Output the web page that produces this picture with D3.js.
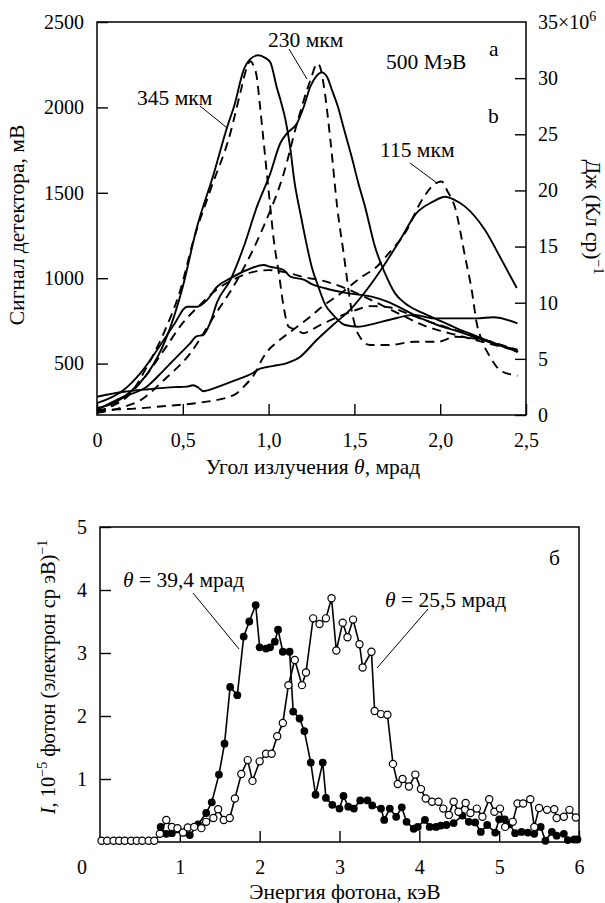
<!DOCTYPE html>
<html><head><meta charset="utf-8">
<script src="https://cdn.jsdelivr.net/npm/d3@7"></script>
<style>
body{margin:0;background:#fff}
</style>
</head><body>
<svg id="c" width="605" height="903"></svg>
<script>
// ---------- Panel (a/b): detector signal vs emission angle ----------
const angleTicks = [0, 0.5, 1.0, 1.5, 2.0, 2.5];
const signalTicks = [500, 1000, 1500, 2000, 2500];
const energyTicks = [0, 5, 10, 15, 20, 25, 30];

// solid curves (left axis, mV)
const s345 = [[0,240],[0.1,270],[0.2,340],[0.3,450],[0.4,640],[0.5,950],[0.58,1290],[0.68,1610],[0.76,1890],[0.8,2010],[0.855,2220],[0.89,2280],[0.94,2305],[0.98,2290],[1.01,2265],[1.047,2120],[1.07,2040],[1.1,1920],[1.125,1770],[1.15,1570],[1.185,1380],[1.212,1243],[1.253,1060],[1.29,950],[1.33,845],[1.368,794],[1.445,726],[1.52,716],[1.6,730],[1.7,755],[1.85,785],[1.96,765],[2.1,765],[2.21,765],[2.31,771],[2.45,736]];
const s230 = [[0,228],[0.155,306],[0.29,365],[0.39,462],[0.485,560],[0.54,615],[0.58,660],[0.62,668],[0.66,740],[0.7,860],[0.777,989],[0.855,1184],[0.932,1419],[1.01,1614],[1.068,1790],[1.107,1848],[1.166,1907],[1.205,2004],[1.243,2121],[1.28,2185],[1.31,2205],[1.34,2180],[1.37,2100],[1.404,2004],[1.44,1870],[1.484,1711],[1.522,1560],[1.562,1419],[1.62,1184],[1.678,1029],[1.737,911],[1.795,853],[1.9,795],[2.0,750],[2.1,705],[2.2,665],[2.3,625],[2.455,570]];
const s115 = [[0,306],[0.156,335],[0.3,350],[0.45,362],[0.524,365],[0.559,373],[0.59,360],[0.618,338],[0.65,345],[0.68,355],[0.8,400],[0.909,445],[0.95,470],[0.99,480],[1.05,490],[1.107,503],[1.183,539],[1.28,638],[1.375,726],[1.474,814],[1.571,931],[1.667,1067],[1.766,1224],[1.863,1382],[1.958,1448],[2.028,1477],[2.08,1460],[2.145,1419],[2.261,1282],[2.358,1107],[2.446,943]];
const sBroad = [[0,268],[0.155,345],[0.252,443],[0.389,638],[0.45,730],[0.524,833],[0.583,833],[0.641,872],[0.7,950],[0.777,999],[0.874,1048],[0.971,1077],[1.01,1067],[1.088,1048],[1.127,1009],[1.212,989],[1.243,970],[1.329,941],[1.465,911],[1.6,892],[1.7,860],[1.8,810],[1.9,760],[2.0,720],[2.1,690],[2.2,655],[2.3,620],[2.45,580]];

// dashed curves (right axis, J (C sr)^-1, x10^6)
const d345 = [[0,0.3],[0.1,0.9],[0.194,1.9],[0.291,4.3],[0.389,7.3],[0.485,11.1],[0.563,15.6],[0.66,20],[0.777,25.1],[0.84,29],[0.87,30.8],[0.893,31.5],[0.915,31],[0.93,30.2],[0.95,27.5],[0.97,24.5],[0.99,21.5],[1.01,18.5],[1.03,15.6],[1.06,12.6],[1.088,9.6],[1.117,7.86],[1.166,7.57],[1.205,7.28],[1.25,7.6],[1.3,8.0],[1.4,8.7],[1.5,9.3],[1.6,9.7],[1.7,9.6],[1.8,9.1],[1.9,8.5],[2.0,8.0],[2.1,7.5],[2.2,7.0],[2.3,6.5],[2.45,5.8]];
const d230 = [[0,0.2],[0.15,0.7],[0.252,1.3],[0.389,3.1],[0.544,5.5],[0.68,8.75],[0.816,12],[0.971,16.8],[1.088,21.5],[1.166,26],[1.243,29.8],[1.285,31.3],[1.3,31.0],[1.32,29.5],[1.36,24.5],[1.4,18.5],[1.44,14.1],[1.48,9.64],[1.52,7.27],[1.59,6.23],[1.7,6.23],[1.853,6.53],[1.99,6.53],[2.09,6.97],[2.2,6.8],[2.3,6.5],[2.45,5.6]];
const d115 = [[0,0.45],[0.2,0.55],[0.4,0.8],[0.6,1.1],[0.8,1.8],[0.86,2.6],[0.92,3.7],[0.96,4.9],[1.0,5.8],[1.05,6.5],[1.1,7.1],[1.17,7.9],[1.243,8.75],[1.3,9.5],[1.435,11.0],[1.533,12.2],[1.63,13.2],[1.7,14.4],[1.795,16.2],[1.892,19.1],[1.97,20.6],[2.009,20.8],[2.04,20.0],[2.086,18.5],[2.145,14.1],[2.184,11.1],[2.213,8.16],[2.242,6.68],[2.29,5.19],[2.348,4.0],[2.426,3.56],[2.45,3.5]];
const dBroad = [[0,0.3],[0.1,0.9],[0.2,2.0],[0.3,3.8],[0.4,6.0],[0.5,8.2],[0.6,9.8],[0.7,11.2],[0.8,12.1],[0.9,12.7],[1.0,12.9],[1.1,12.7],[1.2,12.3],[1.33,11.9],[1.445,11.3],[1.562,10.5],[1.678,9.64],[1.795,8.75],[1.9,8.0],[2.0,7.5],[2.1,7.1],[2.2,6.7],[2.3,6.3],[2.45,5.7]];

// ---------- Panel (б): photon spectra ----------
const photonEnergyTicks = [1, 2, 3, 4, 5, 6];
const intensityTicks = [1, 2, 3, 4, 5];
const theta394 = [[0.76,0.24],[0.83,0.13],[0.90,0.14],[0.97,0.2],[1.05,0.15],[1.125,0.11],[1.23,0.28],[1.33,0.46],[1.40,0.63],[1.49,1.07],[1.56,1.56],[1.63,2.46],[1.72,2.33],[1.80,3.26],[1.87,3.50],[1.95,3.76],[2.00,3.09],[2.08,3.07],[2.13,3.09],[2.19,3.18],[2.23,3.37],[2.29,3.02],[2.375,3.02],[2.42,2.07],[2.50,1.96],[2.56,1.76],[2.64,1.26],[2.70,0.75],[2.79,1.26],[2.83,0.70],[2.91,0.59],[3.0,0.53],[3.05,0.73],[3.11,0.56],[3.18,0.53],[3.26,0.66],[3.35,0.66],[3.41,0.58],[3.52,0.53],[3.56,0.35],[3.63,0.53],[3.71,0.40],[3.78,0.55],[3.84,0.32],[3.93,0.21],[3.98,0.24],[4.07,0.35],[4.13,0.24],[4.21,0.24],[4.27,0.26],[4.34,0.27],[4.43,0.30],[4.54,0.42],[4.62,0.32],[4.70,0.31],[4.77,0.16],[4.85,0.27],[4.95,0.15],[5.0,0.36],[5.07,0.36],[5.13,0.28],[5.20,0.14],[5.28,0.16],[5.36,0.15],[5.44,0.13],[5.52,0.24],[5.58,0.02],[5.66,0.16],[5.72,0.10],[5.81,0.13],[5.86,0.03],[5.94,0.04],[5.98,0.04]];
const theta255 = [[0.02,0.02],[0.09,0.02],[0.17,0.02],[0.24,0.02],[0.31,0.02],[0.39,0.02],[0.46,0.02],[0.53,0.02],[0.61,0.02],[0.68,0.02],[0.75,0.13],[0.83,0.35],[0.90,0.24],[0.97,0.22],[1.04,0.15],[1.10,0.23],[1.18,0.24],[1.27,0.22],[1.33,0.32],[1.42,0.38],[1.48,0.52],[1.55,0.35],[1.625,0.38],[1.69,0.69],[1.77,1.08],[1.85,1.30],[1.91,0.97],[2.0,1.28],[2.08,1.40],[2.15,1.40],[2.22,1.68],[2.29,1.89],[2.36,2.49],[2.44,2.89],[2.53,2.49],[2.58,2.69],[2.67,3.55],[2.75,3.46],[2.83,3.55],[2.90,3.87],[2.96,3.04],[3.04,3.48],[3.10,3.25],[3.17,3.53],[3.25,3.14],[3.29,2.77],[3.40,3.02],[3.44,2.08],[3.52,2.03],[3.60,2.02],[3.67,1.24],[3.73,0.92],[3.79,1.00],[3.87,0.88],[3.95,1.07],[4.02,0.84],[4.08,0.69],[4.16,0.64],[4.24,0.64],[4.30,0.53],[4.37,0.43],[4.43,0.64],[4.49,0.48],[4.58,0.62],[4.64,0.46],[4.72,0.53],[4.79,0.40],[4.875,0.68],[4.94,0.48],[5.01,0.53],[5.075,0.24],[5.17,0.32],[5.23,0.61],[5.30,0.61],[5.39,0.68],[5.44,0.24],[5.50,0.54],[5.60,0.51],[5.69,0.52],[5.72,0.38],[5.81,0.40],[5.88,0.51],[5.96,0.39]];

// ---------- drawing ----------
const svg = d3.select("#c");
const FONT = "'Liberation Serif', 'Times New Roman', serif";
const FS = 20;      // tick labels
const FT = 21.5;    // titles / annotations
const comma = d => d === 0 ? "0" : d3.format(".1f")(d).replace(".", ",");
const intf = d3.format("d");

function styleAxis(g){
  g.attr("font-family", null).attr("font-size", null);
  g.select(".domain").remove();
  g.selectAll(".tick line").attr("stroke", "#000").attr("stroke-width", 1.4);
  g.selectAll(".tick text").style("font-family", FONT).style("font-size", FS + "px").attr("fill", "#000");
}
function txt(sel, size){ return sel.style("font-family", FONT).style("font-size", size + "px").attr("fill", "#000"); }

// top panel
const T = {l:97, r:526, t:22, b:415};
const x = d3.scaleLinear([0, 2.5], [T.l, T.r]);
const yL = d3.scaleLinear([199, 2500], [T.b, T.t]);
const yR = d3.scaleLinear([0, 35], [T.b, T.t]);

svg.append("g").attr("transform", `translate(0,${T.b})`)
  .call(d3.axisBottom(x).tickValues(angleTicks).tickSize(-11).tickPadding(18).tickFormat(comma))
  .call(styleAxis);
svg.append("g").attr("transform", `translate(${T.l},0)`)
  .call(d3.axisLeft(yL).tickValues(signalTicks).tickSize(-11).tickPadding(13).tickFormat(intf))
  .call(styleAxis);
svg.append("g").attr("transform", `translate(${T.r},0)`)
  .call(d3.axisRight(yR).tickValues(energyTicks).tickSize(-11).tickPadding(12).tickFormat(intf))
  .call(styleAxis);
const t35 = txt(svg.append("text"), FS).attr("x", T.r + 12).attr("y", yR(35) + 7);
t35.append("tspan").text("35×10");
t35.append("tspan").style("font-size", "14px").attr("dy", -8).text("6");

svg.append("rect").attr("x", T.l).attr("y", T.t).attr("width", T.r - T.l).attr("height", T.b - T.t)
  .attr("fill", "none").attr("stroke", "#000").attr("stroke-width", 1.5);

const lineL = d3.line().x(d => x(d[0])).y(d => yL(d[1])).curve(d3.curveMonotoneX);
const lineR = d3.line().x(d => x(d[0])).y(d => yR(d[1])).curve(d3.curveMonotoneX);
[s345, s230, s115, sBroad].forEach(s => svg.append("path").attr("d", lineL(s))
  .attr("fill", "none").attr("stroke", "#000").attr("stroke-width", 1.9));
[d345, d230, d115, dBroad].forEach(s => svg.append("path").attr("d", lineR(s))
  .attr("fill", "none").attr("stroke", "#000").attr("stroke-width", 1.9).attr("stroke-dasharray", "9,6"));

// axis titles top
const xt = txt(svg.append("text"), FT).attr("x", 313).attr("y", 474).attr("text-anchor", "middle");
xt.append("tspan").text("Угол излучения ");
xt.append("tspan").style("font-style", "italic").text("θ");
xt.append("tspan").text(", мрад");
txt(svg.append("text"), FT).attr("transform", "translate(24,225) rotate(-90)").attr("text-anchor", "middle")
  .text("Сигнал детектора, мВ");
const rt = txt(svg.append("text"), FT).attr("transform", "translate(586,217) rotate(90)").attr("text-anchor", "middle");
rt.append("tspan").text("Дж (Кл ср)");
rt.append("tspan").style("font-size", "14px").attr("dy", -8).text("−1");

// annotations top
function label(xp, yp, str){ txt(svg.append("text"), FT).attr("x", xp).attr("y", yp).text(str); }
function leader(x1, y1, x2, y2){ svg.append("line").attr("x1", x1).attr("y1", y1).attr("x2", x2).attr("y2", y2).attr("stroke", "#000").attr("stroke-width", 1); }
label(137, 105, "345 мкм"); leader(200, 106, 226, 127);
label(268, 47, "230 мкм"); leader(289, 49, 307, 79);
label(386, 69, "500 МэВ");
label(489, 56, "a");
label(488, 123, "b");
label(380, 157, "115 мкм"); leader(410, 163, 437, 183);

// bottom panel
const B = {l:100, r:579, t:527, b:842};
const xb = d3.scaleLinear([0, 6], [B.l, B.r]);
const yb = d3.scaleLinear([0, 5], [B.b, B.t]);
svg.append("g").attr("transform", `translate(0,${B.b})`)
  .call(d3.axisBottom(xb).tickValues(photonEnergyTicks).tickSize(-11).tickPadding(18).tickFormat(intf))
  .call(styleAxis);
svg.append("g").attr("transform", `translate(${B.l},0)`)
  .call(d3.axisLeft(yb).tickValues(intensityTicks).tickSize(-11).tickPadding(13).tickFormat(intf))
  .call(styleAxis);
txt(svg.append("text"), FS).attr("x", 82).attr("y", B.b + 32).attr("text-anchor", "middle").text("0");
svg.append("rect").attr("x", B.l).attr("y", B.t).attr("width", B.r - B.l).attr("height", B.b - B.t)
  .attr("fill", "none").attr("stroke", "#000").attr("stroke-width", 1.5);

const lineB = d3.line().x(d => xb(d[0])).y(d => yb(d[1]));
svg.append("path").attr("d", lineB(theta394)).attr("fill", "none").attr("stroke", "#000").attr("stroke-width", 1.6);
svg.append("path").attr("d", lineB(theta255)).attr("fill", "none").attr("stroke", "#000").attr("stroke-width", 1.6);
svg.append("g").selectAll("circle").data(theta394).join("circle")
  .attr("cx", d => xb(d[0])).attr("cy", d => yb(d[1])).attr("r", 3.9).attr("fill", "#000");
svg.append("g").selectAll("circle").data(theta255).join("circle")
  .attr("cx", d => xb(d[0])).attr("cy", d => yb(d[1])).attr("r", 3.6).attr("fill", "#fff").attr("stroke", "#000").attr("stroke-width", 1.2);

txt(svg.append("text"), FT).attr("x", 345).attr("y", 899).attr("text-anchor", "middle").text("Энергия фотона, кэВ");
const by = txt(svg.append("text"), 20.5).attr("transform", "translate(55,677) rotate(-90)").attr("text-anchor", "middle");
by.append("tspan").style("font-style", "italic").text("I");
by.append("tspan").text(", 10");
by.append("tspan").style("font-size", "14px").attr("dy", -8).text("−5");
by.append("tspan").attr("dy", 8).text(" фотон (электрон ср эВ)");
by.append("tspan").style("font-size", "14px").attr("dy", -8).text("−1");

function thetaLabel(xp, yp, val){
  const t = txt(svg.append("text"), FT).attr("x", xp).attr("y", yp);
  t.append("tspan").style("font-style", "italic").text("θ");
  t.append("tspan").text(" = " + val + " мрад");
}
thetaLabel(123, 587, "39,4"); leader(193, 593, 239, 649);
thetaLabel(385, 607, "25,5"); leader(428, 609, 377, 668);
label(549, 565, "б");
</script>
</body></html>
